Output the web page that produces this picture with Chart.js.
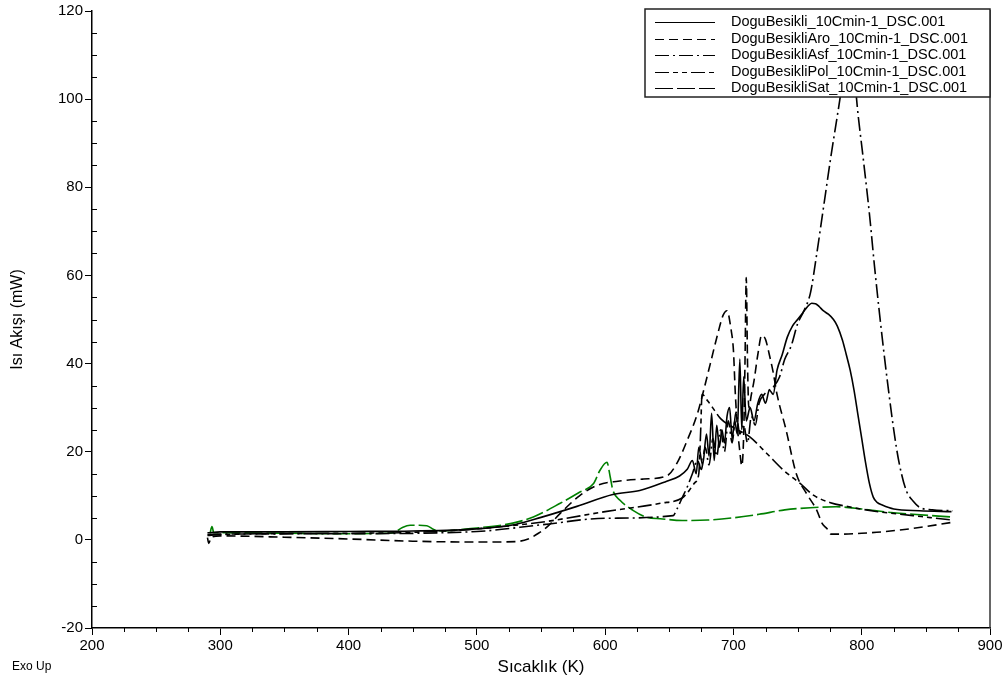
<!DOCTYPE html>
<html>
<head>
<meta charset="utf-8">
<script src="https://cdn.jsdelivr.net/npm/chart.js@4.4.1/dist/chart.umd.min.js"></script>
<style>
  html, body { margin: 0; padding: 0; background: #fff; }
  #dsc { display: block; }
</style>
</head>
<body>
<canvas id="dsc" width="1008" height="685"></canvas>
<script>
// DSC curves, Doğu Beşikli samples (temperature K -> heat flow mW)

const seriesNames = [
    'DoguBesikli_10Cmin-1_DSC.001',
    'DoguBesikliAro_10Cmin-1_DSC.001',
    'DoguBesikliAsf_10Cmin-1_DSC.001',
    'DoguBesikliPol_10Cmin-1_DSC.001',
    'DoguBesikliSat_10Cmin-1_DSC.001'
];

const xTicks = [200, 300, 400, 500, 600, 700, 800, 900];
const yTicks = [-20, 0, 20, 40, 60, 80, 100, 120];

// DoguBesikli (solid)
const besikliT = [290, 300, 350, 400, 450, 500, 530, 550, 578, 606, 627, 648, 658, 664, 668, 671, 673, 676, 679, 681, 683, 685, 687, 689, 691, 693, 695, 697, 699, 701, 703, 705, 706.5, 708, 710, 713, 716, 719, 722, 725, 728, 731, 734, 738, 742, 746, 750, 754, 758, 761, 764, 767, 770, 774, 778, 781, 785, 788, 791, 794, 797, 800, 803, 806, 809, 812, 816, 825, 845, 870];
const besikliY = [1.6, 1.8, 1.8, 1.9, 2.0, 2.5, 3.5, 5.1, 7.6, 10.3, 11.2, 13.3, 14.5, 16, 18, 15, 21, 17, 24, 19, 28.7, 18, 26, 21, 25, 22, 28, 30, 23, 27, 24, 41, 25, 37, 27, 30, 27, 31, 33, 31, 34, 33, 38.5, 42, 46, 48.5, 50, 51.5, 53, 53.7, 53.6, 52.9, 52, 51.2, 50, 48.5, 45.3, 42, 38.5, 34, 28.5, 23, 17.5, 12.8, 9.7, 8.5, 7.9, 7, 6.6, 6.4];

// Aro (dashed)
const aroT = [290, 291, 293, 300, 350, 400, 450, 500, 530, 540, 548, 555, 565, 580, 595, 610, 630, 648, 656, 664, 672, 676, 682, 688, 692, 695, 698, 700, 701.5, 703, 705, 706.5, 708, 709, 710, 711, 712, 714, 716, 719, 722, 725, 728, 731, 734, 741, 749, 757, 765, 769, 773, 776, 783, 800, 815, 840, 871];
const aroY = [0.5, -0.8, 0.6, 0.9, 0.6, 0.2, -0.3, -0.5, -0.4, 0.2, 1.5, 3, 6, 10, 12.5, 13.3, 13.8, 14.5, 17.4, 22.6, 28.7, 33, 40, 47, 51, 52, 48, 43, 33, 26, 20, 16.8, 24, 40, 59.5, 40, 30, 33, 36, 42, 46.4, 45.5, 42, 38, 33, 25, 15, 10.5, 6.7, 3.8, 2.5, 1.3, 1.3, 1.5, 1.8, 2.6, 4];

// Asf (dash-dot)
const asfT = [290, 300, 400, 500, 550, 600, 653, 656, 660, 664, 668, 672, 675, 678, 681, 684, 687, 690, 693, 696, 699, 702, 705, 708, 711, 714, 717, 720, 724, 728, 732, 736, 740, 745, 750, 755, 760, 765, 770, 776, 783, 788, 791, 794, 796, 801, 806, 810, 814, 820, 827, 831, 835, 840, 845, 855, 871];
const asfY = [1.2, 1.3, 1.4, 1.9, 3.4, 4.9, 5.5, 7, 9.5, 12, 15, 18, 16, 21, 17, 23, 19, 25, 20, 27, 22, 29, 24, 26, 22, 28, 26, 31, 33, 34, 35, 37, 41, 44, 49, 52, 56, 65, 75, 87, 100, 110, 113, 108, 100, 87, 74, 62, 51, 36, 21, 15, 11, 8.8, 7.4, 6.8, 6.6];

// Pol (long dash, short, short)
const polT = [290, 300, 400, 450, 500, 550, 600, 643, 660, 665, 670, 673, 674.5, 675.5, 680, 685, 690, 700, 713, 726, 739, 752, 762, 775, 790, 810, 840, 870];
const polY = [1.0, 1.2, 1.5, 1.7, 2.5, 4, 6.4, 8.3, 9.5, 11, 13, 15, 25, 33, 31.5, 29.5, 27.5, 25.5, 23.3, 19.6, 15.8, 12.8, 10.2, 8.5, 7.5, 6.5, 5.5, 4.5];

// Sat (long dashes, green)
const satT = [292, 293.5, 295, 300, 350, 400, 430, 435, 442, 448, 455, 461, 466, 470, 500, 528, 544, 565, 580, 591, 596, 601.4, 604, 606, 611.6, 621.7, 632.6, 643, 660, 680, 700, 720, 740, 760, 780, 800, 820, 840, 870];
const satY = [1.5, 3, 1.6, 1.6, 1.5, 1.4, 1.5, 1.6, 2.8, 3.3, 3.3, 3.2, 2.4, 2.0, 2.7, 3.8, 5.2, 8.3, 10.8, 12.8, 15.8, 17.6, 14.2, 11.3, 9, 6.7, 5.1, 4.8, 4.4, 4.5, 5.0, 5.8, 6.8, 7.3, 7.5, 7.0, 6.3, 5.8, 5.2];

const seriesT = [besikliT, aroT, asfT, polT, satT];
const seriesY = [besikliY, aroY, asfY, polY, satY];
const seriesColors = ['#000000', '#000000', '#000000', '#000000', '#008000'];
const seriesDash = [[], [9, 5], [14, 4, 2, 4], [14, 4, 5, 4, 5, 4], [18, 4]];

const pairs = (t, v) => t.map((x, i) => ({ x: x, y: v[i] }));

const datasets = seriesNames.map((name, i) => ({
    label: name,
    data: pairs(seriesT[i], seriesY[i]),
    borderColor: seriesColors[i],
    borderDash: seriesDash[i],
    borderWidth: 1.6,
    pointRadius: 0,
    cubicInterpolationMode: 'monotone',
    fill: false
}));

const FONT = "'Liberation Sans', Arial, sans-serif";

// minor ticks, right frame, legend box, "Exo Up"
const decorPlugin = {
    id: 'decor',
    afterDraw(chart) {
        const ctx = chart.ctx;
        const area = chart.chartArea;
        const xs = chart.scales.x, ys = chart.scales.y;
        ctx.save();
        ctx.strokeStyle = '#000';
        ctx.lineWidth = 1;
        // minor ticks
        for (let v = 225; v < 900; v += 25) {
            if (v % 100 === 0) continue;
            const px = Math.round(xs.getPixelForValue(v)) + 0.5;
            ctx.beginPath();
            ctx.moveTo(px, area.bottom);
            ctx.lineTo(px, area.bottom + 4);
            ctx.stroke();
        }
        for (let v = -15; v < 120; v += 5) {
            if (v % 20 === 0) continue;
            const py = Math.round(ys.getPixelForValue(v)) + 0.5;
            ctx.beginPath();
            ctx.moveTo(area.left, py);
            ctx.lineTo(area.left + 5, py);
            ctx.stroke();
        }
        // right frame
        ctx.strokeStyle = '#333';
        ctx.lineWidth = 1.5;
        ctx.beginPath();
        ctx.moveTo(area.right, area.top - 1);
        ctx.lineTo(area.right, area.bottom);
        ctx.stroke();

        // legend box
        const bx = 645, by = 9, bw = area.right - 645, bh = 88;
        ctx.fillStyle = '#fff';
        ctx.fillRect(bx, by, bw, bh);
        ctx.strokeStyle = '#222';
        ctx.lineWidth = 1.5;
        ctx.strokeRect(bx, by, bw, bh);
        ctx.font = '14.5px ' + FONT;
        ctx.textBaseline = 'middle';
        ctx.textAlign = 'left';
        seriesNames.forEach((name, i) => {
            const cy = Math.round(22 + i * 16.5);
            ctx.strokeStyle = '#000';
            ctx.lineWidth = 1;
            ctx.setLineDash(seriesDash[i]);
            ctx.beginPath();
            ctx.moveTo(655, cy + 0.5);
            ctx.lineTo(715, cy + 0.5);
            ctx.stroke();
            ctx.setLineDash([]);
            ctx.fillStyle = '#000';
            ctx.fillText(name, 731, cy);
        });

        ctx.font = '12px ' + FONT;
        ctx.fillStyle = '#000';
        ctx.textBaseline = 'middle';
        ctx.fillText('Exo Up', 12, 667);
        ctx.restore();
    }
};

new Chart(document.getElementById('dsc'), {
    type: 'line',
    data: { datasets: datasets },
    options: {
        responsive: false,
        animation: false,
        events: [],
        layout: { padding: { top: 10, right: 18, left: 0, bottom: 0 } },
        plugins: {
            legend: { display: false },
            tooltip: { enabled: false }
        },
        scales: {
            x: {
                type: 'linear',
                min: xTicks[0],
                max: xTicks[xTicks.length - 1],
                afterBuildTicks: s => { s.ticks = xTicks.map(v => ({ value: v })); },
                afterFit: s => { s.height = 57; },
                ticks: { color: '#000', font: { family: FONT, size: 15 }, padding: 2, maxRotation: 0 },
                grid: { drawOnChartArea: false, tickLength: 7, color: '#000', tickWidth: 1 },
                border: { color: '#000', width: 1.5 },
                title: { display: true, text: 'Sıcaklık (K)', color: '#000', font: { family: FONT, size: 17 }, padding: { top: 4, bottom: 7 } }
            },
            y: {
                type: 'linear',
                min: yTicks[0],
                max: yTicks[yTicks.length - 1],
                afterBuildTicks: s => { s.ticks = yTicks.map(v => ({ value: v })); },
                afterFit: s => { s.width = 92; },
                ticks: { color: '#000', font: { family: FONT, size: 15 }, padding: 2 },
                grid: { drawOnChartArea: false, tickLength: 7, color: '#000', tickWidth: 1 },
                border: { color: '#000', width: 1.5 },
                title: { display: true, text: 'Isı Akışı (mW)', color: '#000', font: { family: FONT, size: 16 }, padding: { top: 8, bottom: 4 } }
            }
        }
    },
    plugins: [decorPlugin]
});
</script>
</body>
</html>
